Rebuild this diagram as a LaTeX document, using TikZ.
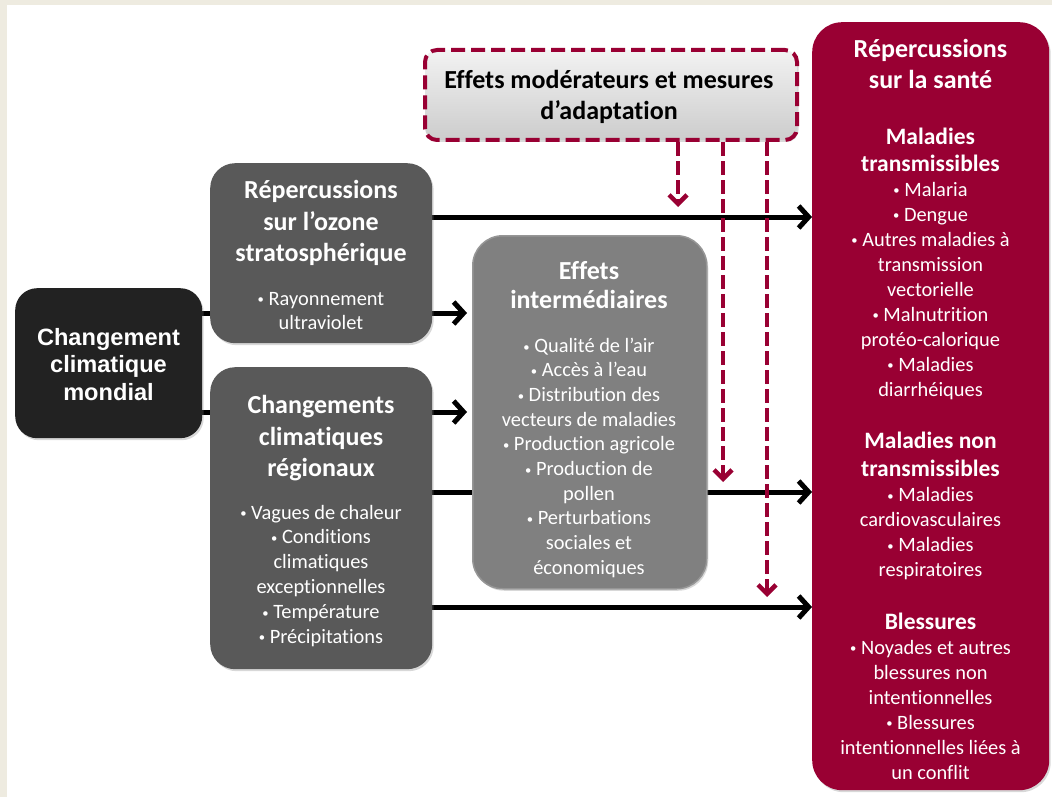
\documentclass[tikz,border=0pt]{standalone}
\usepackage{fontspec}
\setmainfont{Carlito}[Ligatures={NoCommon,NoRare,NoDiscretionary}]
\newfontfamily\arialfont{Liberation Sans}
\usetikzlibrary{arrows.meta,shadows}
\definecolor{maroon}{RGB}{153,0,51}
\definecolor{beige}{RGB}{238,235,224}
\definecolor{darkbox}{RGB}{89,89,89}
\definecolor{blackbox}{RGB}{34,34,34}
\definecolor{midbox}{RGB}{128,128,128}
\definecolor{midedge}{RGB}{150,150,150}
\pgfdeclarelayer{bg}
\pgfdeclarelayer{lines}
\pgfsetlayers{bg,lines,main}
\newcommand\fl{\rule{0pt}{0.8em}}
\newcommand\bul{\raisebox{0.06em}{\scalebox{0.62}{•}}}
\newcommand\setsz[2]{\fontsize{#1}{#2}\selectfont\lineskiplimit=-100pt\lineskip=0pt}
\begin{document}
\begin{tikzpicture}[x=1pt,y=-1pt,
  panel/.style={rounded corners=#1, inner sep=0, anchor=north west,
    drop shadow={shadow xshift=1.5pt, shadow yshift=-2pt, opacity=0.3}},
  tw/.style={inner sep=0, align=center, anchor=north, text=white},
  blk/.style={line width=5pt, draw=black},
  blkarr/.style={blk, -{Straight Barb[length=10pt,width=22pt]}},
  mar/.style={line width=4.5pt, draw=maroon, dash pattern=on 14pt off 5pt,
    -{Straight Barb[length=9pt,width=18pt]}}
]
\useasboundingbox (0,0) rectangle (1052,797);
\begin{pgfonlayer}{bg}
\fill[beige] (0,0) rectangle (1052,797);
\fill[white] (7,5) rectangle (1052,797);
\end{pgfonlayer}

% boxes
\node[panel=22, fill=blackbox, minimum width=187pt, minimum height=150pt] (cc) at (15,288) {};
\node[panel=25, fill=darkbox, minimum width=222pt, minimum height=180pt] (oz) at (210,163) {};
\node[panel=25, fill=darkbox, minimum width=222pt, minimum height=302pt] (rc) at (210,367) {};
\node[panel=30, fill=midbox, draw=midedge, line width=1.5pt, minimum width=234pt, minimum height=353pt] (im) at (472,235) {};
\node[panel=12, top color=black!5, bottom color=black!20, draw=maroon, line width=4pt,
  dash pattern=on 14pt off 6pt, minimum width=372pt, minimum height=90pt] (dm) at (423,48) {};
\node[panel=30, fill=maroon, minimum width=237pt, minimum height=768pt] (hs) at (812,22) {};

% texts
\node[tw, font=\arialfont\bfseries\setsz{23.6}{27.5}] (cct) at (108.5,326.1)
  {\fl Changement\\climatique\\mondial};
\node[tw, font=\bfseries\setsz{26}{31.7}] (ozt) at (321,177.5)
  {\fl Répercussions\\sur l’ozone\\stratosphérique};
\node[tw, font=\setsz{20.4}{24.7}] (ozl) at (321,288.5)
  {\fl \bul\ Rayonnement\\ultraviolet};
\node[tw, font=\bfseries\setsz{26}{31.7}] (rct) at (321,392.5)
  {\fl Changements\\climatiques\\régionaux};
\node[tw, font=\setsz{20.4}{24.8}] (rcl) at (321,502.5)
  {\fl \bul\ Vagues de chaleur\\\bul\ Conditions\\climatiques\\exceptionnelles\\\bul\ Température\\\bul\ Précipitations};
\node[tw, font=\bfseries\setsz{26}{29.7}] (imt) at (589,258)
  {\fl Effets\\intermédiaires};
\node[tw, font=\setsz{20.4}{24.65}] (iml) at (589,335.8)
  {\fl \bul\ Qualité de l’air\\\bul\ Accès à l’eau\\\bul\ Distribution des\\vecteurs de maladies\\\bul\ Production agricole\\\bul\ Production de\\pollen\\\bul\ Perturbations\\sociales et\\économiques};
\node[tw, text=black, font=\bfseries\setsz{26}{31}] (dmt) at (609,67.7)
  {\fl Effets modérateurs et mesures\\d’adaptation};
\node[tw, font=\bfseries\setsz{26}{31}] (hst) at (930.5,37)
  {\fl Répercussions\\sur la santé};
\node[tw, font=\bfseries\setsz{23.5}{27}] (hs1) at (930.5,125.5)
  {\fl Maladies\\transmissibles};
\node[tw, font=\setsz{20.4}{25}] (hl1) at (930.5,179.7)
  {\fl \bul\ Malaria\\\bul\ Dengue\\\bul\ Autres maladies à\\transmission\\vectorielle\\\bul\ Malnutrition\\protéo-calorique\\\bul\ Maladies\\diarrhéiques};
\node[tw, font=\bfseries\setsz{23.5}{28}] (hs2) at (930.5,429.2)
  {\fl Maladies non\\transmissibles};
\node[tw, font=\setsz{20.4}{25}] (hl2) at (930.5,484.7)
  {\fl \bul\ Maladies\\cardiovasculaires\\\bul\ Maladies\\respiratoires};
\node[tw, font=\bfseries\setsz{23.5}{27}] (hs3) at (930.5,610.2)
  {\fl Blessures};
\node[tw, font=\setsz{20.4}{25}] (hl3) at (930.5,637.5)
  {\fl \bul\ Noyades et autres\\blessures non\\intentionnelles\\\bul\ Blessures\\intentionnelles liées à\\un conflit};

% targets of the moderating arrows
\coordinate (d1) at (678,207);
\coordinate (d2) at (723,482);
\coordinate (d3) at (767,597);

% connectors
\begin{pgfonlayer}{lines}
\draw[blk] (cc.east |- 0,313) -- (oz.west |- 0,313);
\draw[blk] (cc.east |- 0,412) -- (rc.west |- 0,412);
\draw[blkarr, shorten >=5pt] (oz.east |- 0,313) -- (im.west |- 0,313);
\draw[blkarr, shorten >=5pt] (rc.east |- 0,412) -- (im.west |- 0,412);
\draw[blkarr] (oz.east |- 0,217) -- (hs.west |- 0,217);
\draw[blkarr] (rc.east |- 0,492) -- (hs.west |- 0,492);
\draw[blkarr] (rc.east |- 0,607) -- (hs.west |- 0,607);
\draw[mar] (dm.south -| d1) -- (d1);
\draw[mar] (dm.south -| d2) -- (d2);
\draw[mar] (dm.south -| d3) -- (d3);
\end{pgfonlayer}
\end{tikzpicture}
\end{document}
